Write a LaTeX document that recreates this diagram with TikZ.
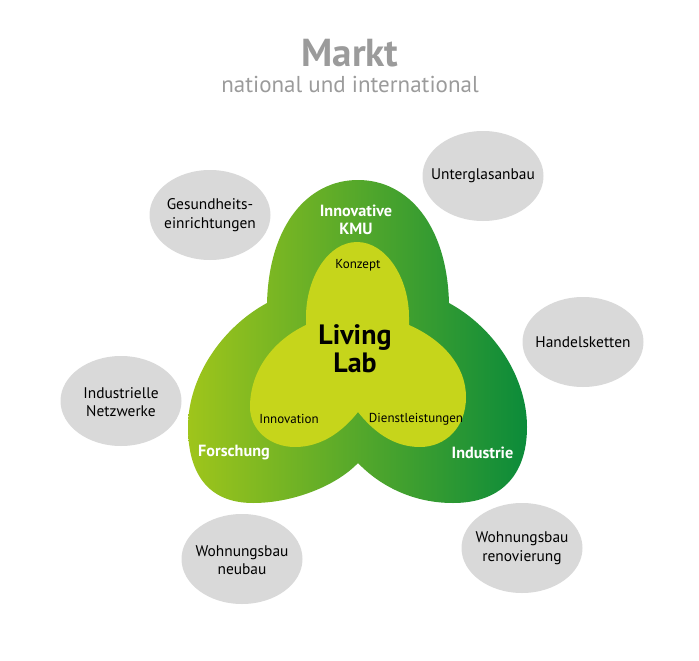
\documentclass[tikz,border=0pt]{standalone}
\usepackage{fontspec}
\setmainfont{PT Sans}
\usetikzlibrary{shapes.geometric}
\definecolor{marktgrey}{HTML}{9B9B9B}
\definecolor{cloudgrey}{HTML}{D9D9D9}
\definecolor{lablime}{HTML}{C6D51B}
\definecolor{outerleft}{HTML}{9FC51B}
\definecolor{outerright}{HTML}{0B8B3A}
\tikzset{
  market/.style={shape=ellipse, fill=cloudgrey, minimum width=121pt, minimum height=90pt, inner sep=0pt},
  markettext/.style={align=center, font=\fontsize{15.4}{18.5}\selectfont},
  inner/.style={font=\fontsize{13}{15}\selectfont},
  partner/.style={text=white, align=center, font=\bfseries\fontsize{16.2}{18}\selectfont}
}
\begin{document}
\begin{tikzpicture}[x=1pt, y=-1pt]
\useasboundingbox (0,0) rectangle (699,661);
\path[left color=outerleft, right color=outerright]
  (358,180) .. controls (408,180) and (447,225) .. (449,303)
  .. controls (495,328) and (527,378) .. (527,427)
  .. controls (527,477) and (499,503) .. (453,503)
  .. controls (413,503) and (380,486) .. (358,463)
  .. controls (336,486) and (293,503) .. (253,503)
  .. controls (207,503) and (188,472) .. (188,427)
  .. controls (188,378) and (221,328) .. (267,303)
  .. controls (269,225) and (308,180) .. (358,180) -- cycle;
\path[fill=lablime]
  (357,242) .. controls (386,242) and (409,278) .. (409,317) -- (409,325)
  .. controls (443,340) and (466,366) .. (466,397)
  .. controls (466,428) and (445,447) .. (420,447)
  .. controls (393,447) and (373,431) .. (358,412)
  .. controls (343,431) and (322,447) .. (295,447)
  .. controls (270,447) and (250,430) .. (250,407)
  .. controls (250,370) and (274,340) .. (306,325) -- (306,317)
  .. controls (306,278) and (328,242) .. (357,242) -- cycle;
\node[text=marktgrey, font=\bfseries\fontsize{39}{39}\selectfont] (markt) at (350,53) {Markt};
\node[text=marktgrey, font=\fontsize{23}{23}\selectfont] (scope) at (350,84) {national und international};
\node[market] (unterglas) at (483,176) {};
\node[markettext] (unterglastext) at (483,176) {Unterglasanbau};
\node[market] (gesundheit) at (210,215) {};
\node[markettext] (gesundheittext) at (210,215) {Gesundheits-\\einrichtungen};
\node[market] (handel) at (583,342) {};
\node[markettext] (handeltext) at (583,342) {Handelsketten};
\node[market] (netzwerke) at (121,401) {};
\node[markettext] (netzwerketext) at (121,402) {Industrielle\\Netzwerke};
\node[market] (neubau) at (242,559) {};
\node[markettext] (neubautext) at (242,560) {Wohnungsbau\\neubau};
\node[market] (renovierung) at (522,548) {};
\node[markettext] (renovierungtext) at (522,548) {Wohnungsbau\\renovierung};
\node[partner] (kmu) at (356,220) {Innovative\\KMU};
\node[partner] (forschung) at (234,453) {Forschung};
\node[partner] (industrie) at (482.5,453) {Industrie};
\node[inner] (konzept) at (358,265) {Konzept};
\node[inner] (innovation) at (289,419) {Innovation};
\node[inner] (dienst) at (416,419) {Dienstleistungen};
\node[align=center, font=\bfseries\fontsize{28}{28}\selectfont] (lab) at (355,349) {Living\\Lab};
\end{tikzpicture}
\end{document}
